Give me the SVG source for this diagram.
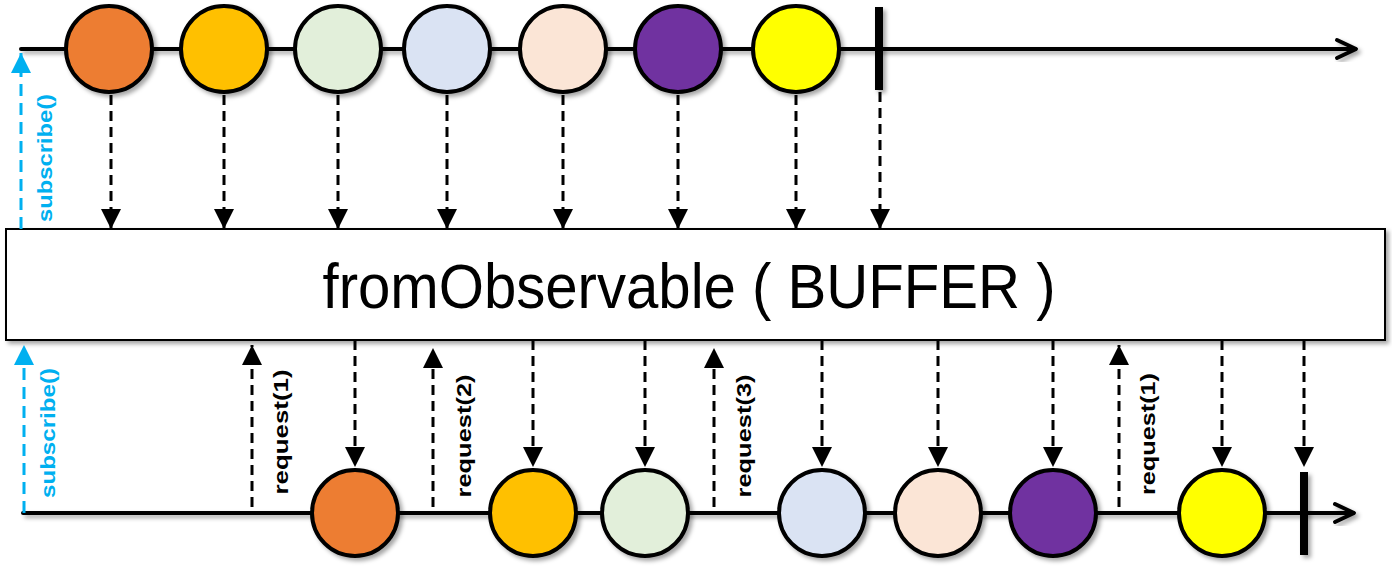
<svg xmlns="http://www.w3.org/2000/svg" width="1392" height="574" viewBox="0 0 1392 574">
<style>
.ln{stroke:#000;stroke-width:4;fill:none;stroke-linecap:round;stroke-linejoin:round}
.bar{stroke:#000;stroke-width:8;fill:none}
.ev{stroke:#000;stroke-width:4}
.dn{stroke:#000;stroke-width:3;stroke-dasharray:10 6;fill:none;marker-end:url(#ah)}
.sub{stroke:#00B0F0;stroke-width:3;stroke-dasharray:12 7;fill:none;marker-end:url(#bh)}
.lbl{font-family:"Liberation Sans",Arial,sans-serif;font-weight:bold;font-size:21px;fill:#000}
.slbl{font-family:"Liberation Sans",Arial,sans-serif;font-weight:bold;font-size:21px;fill:#00B0F0}
.title{font-family:"Liberation Sans",Arial,sans-serif;font-size:63px;fill:#000}
</style>
<defs>
<filter id="sh" x="-20%" y="-20%" width="140%" height="140%">
<feDropShadow dx="3" dy="3" stdDeviation="2" flood-color="#000" flood-opacity="0.35"/>
</filter>
<marker id="ah" markerUnits="userSpaceOnUse" markerWidth="20" markerHeight="20" viewBox="0 0 20 20" refX="20" refY="10" orient="auto">
<path d="M0,0 L20,10 L0,20 Z" fill="#000"/>
</marker>
<marker id="bh" markerUnits="userSpaceOnUse" markerWidth="20" markerHeight="20" viewBox="0 0 20 20" refX="20" refY="10" orient="auto">
<path d="M0,0 L20,10 L0,20 Z" fill="#00B0F0"/>
</marker>
</defs>

<g id="top-timeline" filter="url(#sh)">
<line class="ln" x1="21" y1="49" x2="1355" y2="49"/>
<path class="ln" d="M1337,40 L1356,49 L1337,58"/>
</g>
<g id="bottom-timeline" filter="url(#sh)">
<line class="ln" x1="23" y1="513" x2="1353" y2="513"/>
<path class="ln" d="M1335,504 L1354,513 L1335,522"/>
</g>

<g id="operator" filter="url(#sh)">
<rect x="6" y="229" width="1379" height="111" fill="#fff" stroke="#000" stroke-width="2"/>
<text class="title" x="689" y="308" text-anchor="middle" textLength="733" lengthAdjust="spacingAndGlyphs">fromObservable ( BUFFER )</text>
</g>

<g id="connectors">
<line class="dn" x1="111" y1="95" x2="111" y2="229"/>
<line class="dn" x1="224" y1="95" x2="224" y2="229"/>
<line class="dn" x1="338" y1="95" x2="338" y2="229"/>
<line class="dn" x1="447" y1="95" x2="447" y2="229"/>
<line class="dn" x1="563" y1="95" x2="563" y2="229"/>
<line class="dn" x1="678" y1="95" x2="678" y2="229"/>
<line class="dn" x1="796" y1="95" x2="796" y2="229"/>
<line class="dn" x1="880" y1="92" x2="880" y2="229"/>

<line class="dn" x1="355" y1="340" x2="355" y2="467"/>
<line class="dn" x1="533" y1="340" x2="533" y2="467"/>
<line class="dn" x1="645" y1="340" x2="645" y2="467"/>
<line class="dn" x1="822" y1="340" x2="822" y2="467"/>
<line class="dn" x1="938" y1="340" x2="938" y2="467"/>
<line class="dn" x1="1053" y1="340" x2="1053" y2="467"/>
<line class="dn" x1="1222" y1="340" x2="1222" y2="467"/>
<line class="dn" x1="1304" y1="340" x2="1304" y2="467"/>

<line class="dn" x1="252" y1="507" x2="252" y2="345"/>
<line class="dn" x1="433" y1="507" x2="433" y2="348"/>
<line class="dn" x1="714" y1="507" x2="714" y2="348"/>
<line class="dn" x1="1119" y1="507" x2="1119" y2="345"/>

<line class="sub" x1="21" y1="229" x2="21" y2="53"/>
<line class="sub" x1="24" y1="513" x2="24" y2="345"/>
</g>

<g id="labels">
<text class="slbl" transform="translate(52,158) rotate(-90)" text-anchor="middle" textLength="128" lengthAdjust="spacingAndGlyphs">subscribe()</text>
<text class="slbl" transform="translate(55,433) rotate(-90)" text-anchor="middle" textLength="130" lengthAdjust="spacingAndGlyphs">subscribe()</text>
<text class="lbl" transform="translate(288,432) rotate(-90)" text-anchor="middle" textLength="125" lengthAdjust="spacingAndGlyphs">request(1)</text>
<text class="lbl" transform="translate(471,436) rotate(-90)" text-anchor="middle" textLength="123" lengthAdjust="spacingAndGlyphs">request(2)</text>
<text class="lbl" transform="translate(751,436) rotate(-90)" text-anchor="middle" textLength="123" lengthAdjust="spacingAndGlyphs">request(3)</text>
<text class="lbl" transform="translate(1155,434) rotate(-90)" text-anchor="middle" textLength="122" lengthAdjust="spacingAndGlyphs">request(1)</text>
</g>

<g id="top-events" filter="url(#sh)">
<circle id="t1" class="ev" cx="109" cy="49" r="43" fill="#ED7D31"/>
<circle id="t2" class="ev" cx="224" cy="49" r="43" fill="#FFC000"/>
<circle id="t3" class="ev" cx="338" cy="49" r="43" fill="#E2EFDA"/>
<circle id="t4" class="ev" cx="447" cy="49" r="43" fill="#DAE3F3"/>
<circle id="t5" class="ev" cx="563" cy="49" r="43" fill="#FBE5D6"/>
<circle id="t6" class="ev" cx="678" cy="49" r="43" fill="#7030A0"/>
<circle id="t7" class="ev" cx="796" cy="49" r="43" fill="#FFFF00"/>
<line id="t-end" class="bar" x1="879" y1="7" x2="879" y2="90"/>
</g>

<g id="bottom-events" filter="url(#sh)">
<circle id="b1" class="ev" cx="355" cy="513" r="43" fill="#ED7D31"/>
<circle id="b2" class="ev" cx="533" cy="513" r="43" fill="#FFC000"/>
<circle id="b3" class="ev" cx="645" cy="513" r="43" fill="#E2EFDA"/>
<circle id="b4" class="ev" cx="822" cy="513" r="43" fill="#DAE3F3"/>
<circle id="b5" class="ev" cx="938" cy="513" r="43" fill="#FBE5D6"/>
<circle id="b6" class="ev" cx="1053" cy="513" r="43" fill="#7030A0"/>
<circle id="b7" class="ev" cx="1222" cy="513" r="43" fill="#FFFF00"/>
<line id="b-end" class="bar" x1="1304" y1="472" x2="1304" y2="555"/>
</g>
</svg>
